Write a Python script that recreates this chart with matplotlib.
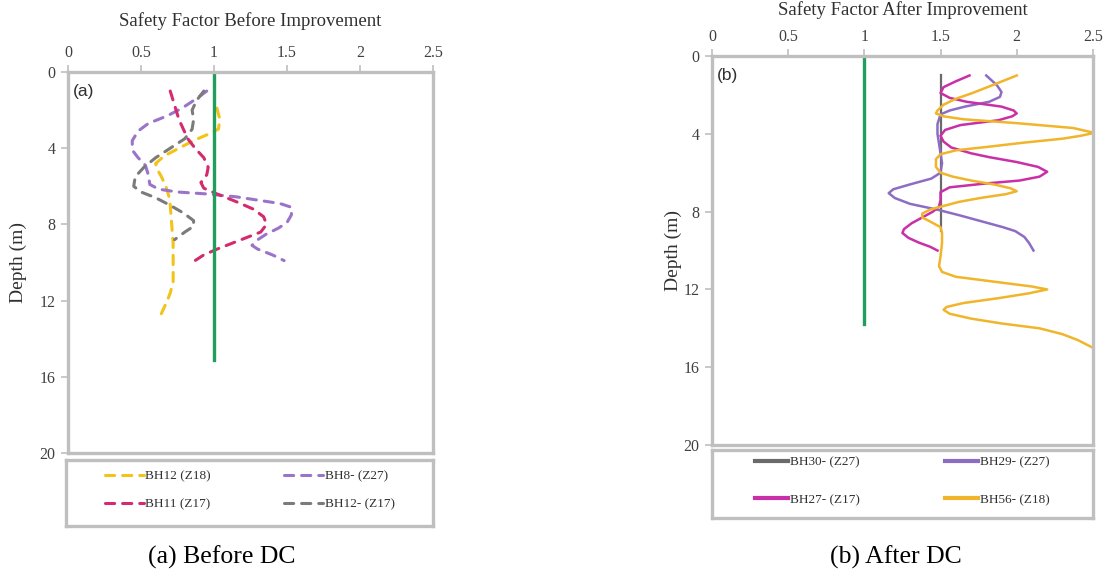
import matplotlib
matplotlib.use('Agg')
import matplotlib.pyplot as plt

plt.rcParams['font.family'] = ['Liberation Serif', 'DejaVu Serif']

# --- shared axis values
sf_ticks = [0, 0.5, 1, 1.5, 2, 2.5]
sf_tick_labels = ['0', '0.5', '1', '1.5', '2', '2.5']
depth_ticks = [0, 4, 8, 12, 16, 20]

# --- (a) before DC (depth in m, safety factor)
bh12_z18_depth = [1.9, 2.5, 3.0, 3.3, 3.6, 4.0, 4.4, 4.8, 5.1, 5.5, 6.0, 6.5, 7.0,
                  8.0, 9.0, 10.0, 11.0, 11.6, 12.0, 12.5, 13.0]
bh12_z18_sf = [1.02, 1.04, 1.03, 0.95, 0.86, 0.76, 0.66, 0.60, 0.61, 0.64, 0.67, 0.69, 0.70,
               0.71, 0.72, 0.72, 0.72, 0.70, 0.68, 0.65, 0.62]

bh8_z27_depth = [1.0, 1.4, 1.9, 2.3, 2.7, 3.1, 3.6, 4.1, 4.5, 4.9, 5.4, 5.9, 6.15, 6.3,
                 6.4, 6.55, 6.75, 6.9, 7.1, 7.5, 7.9, 8.2, 8.5, 8.8, 9.1, 9.3, 9.6, 9.9]
bh8_z27_sf = [0.95, 0.88, 0.78, 0.68, 0.55, 0.48, 0.44, 0.44, 0.48, 0.53, 0.55, 0.56, 0.62, 0.75,
              0.95, 1.15, 1.32, 1.45, 1.53, 1.53, 1.50, 1.44, 1.36, 1.30, 1.26, 1.30, 1.40, 1.48]

bh11_z17_depth = [1.0, 1.5, 2.0, 2.5, 3.0, 3.5, 4.0, 4.5, 5.0, 5.4, 5.8, 6.1, 6.4, 6.8,
                  7.2, 7.6, 8.0, 8.4, 8.7, 9.0, 9.3, 9.6, 10.0]
bh11_z17_sf = [0.70, 0.72, 0.74, 0.76, 0.79, 0.82, 0.87, 0.93, 0.96, 0.95, 0.91, 0.93, 1.02, 1.15,
               1.27, 1.34, 1.36, 1.32, 1.22, 1.12, 1.02, 0.93, 0.85]

bh12_z17_depth = [1.0, 1.5, 2.0, 2.5, 3.0, 3.5, 4.0, 4.5, 5.0, 5.5, 6.0, 6.3, 6.6, 7.0,
                  7.4, 7.8, 8.1, 8.4, 8.8]
bh12_z17_sf = [0.93, 0.88, 0.85, 0.86, 0.85, 0.80, 0.70, 0.60, 0.52, 0.46, 0.45, 0.50, 0.60, 0.70,
               0.79, 0.86, 0.86, 0.80, 0.73]

limit_a_depth = [0, 15.1]
limit_a_sf = [1, 1]

# --- (b) after DC
bh30_z27_depth = [1.0, 9.0]
bh30_z27_sf = [1.5, 1.5]

bh29_z27_depth = [1.0, 1.5, 1.85, 2.1, 2.35, 2.6, 2.8, 3.0, 3.5, 4.0, 4.5, 5.0, 5.5, 6.0,
                  6.3, 6.6, 6.85, 7.05, 7.3, 7.6, 7.9, 8.2, 8.5, 8.8, 9.0, 9.3, 9.6, 10.0]
bh29_z27_sf = [1.80, 1.87, 1.90, 1.89, 1.82, 1.66, 1.56, 1.50, 1.48, 1.48, 1.49, 1.50, 1.51, 1.50,
               1.44, 1.30, 1.19, 1.16, 1.20, 1.30, 1.48, 1.63, 1.77, 1.91, 1.99, 2.05, 2.08, 2.11]

bh27_z17_depth = [1.0, 1.3, 1.6, 1.9, 2.15, 2.35, 2.6, 2.8, 2.95, 3.1, 3.3, 3.55, 3.8, 4.1,
                  4.4, 4.7, 5.0, 5.2, 5.45, 5.7, 5.95, 6.2, 6.4, 6.55, 6.75, 7.0, 7.4, 7.75,
                  8.0, 8.3, 8.6, 8.9, 9.1, 9.35, 9.6, 9.8, 10.0]
bh27_z17_sf = [1.69, 1.60, 1.52, 1.50, 1.56, 1.67, 1.90, 1.98, 2.00, 1.97, 1.88, 1.63, 1.53, 1.50,
               1.52, 1.57, 1.70, 1.82, 2.00, 2.14, 2.20, 2.15, 2.02, 1.80, 1.56, 1.50, 1.50, 1.49,
               1.45, 1.38, 1.31, 1.26, 1.25, 1.29, 1.36, 1.43, 1.48]

bh56_z18_depth = [1.0, 1.5, 1.9, 2.2, 2.5, 2.8, 2.95, 3.1, 3.25, 3.45, 3.7, 3.95, 4.1, 4.25,
                  4.45, 4.65, 4.85, 5.05, 5.3, 5.7, 6.0, 6.2, 6.4, 6.6, 6.8, 6.95, 7.1, 7.3,
                  7.5, 7.75, 7.9, 8.1, 8.3, 8.5, 8.8, 9.1, 9.6, 10.3, 10.8, 11.1, 11.35, 11.6,
                  11.85, 12.0, 12.2, 12.45, 12.7, 12.9, 13.05, 13.25, 13.5, 13.75, 14.0, 14.3,
                  14.6, 15.0]
bh56_z18_sf = [2.00, 1.84, 1.71, 1.60, 1.52, 1.48, 1.47, 1.52, 1.65, 2.00, 2.37, 2.51, 2.42, 2.30,
               2.05, 1.83, 1.60, 1.50, 1.47, 1.47, 1.50, 1.58, 1.70, 1.85, 1.96, 2.00, 1.93, 1.76,
               1.62, 1.50, 1.43, 1.38, 1.38, 1.43, 1.50, 1.51, 1.51, 1.50, 1.49, 1.51, 1.60, 1.85,
               2.10, 2.20, 2.08, 1.88, 1.65, 1.54, 1.52, 1.56, 1.70, 1.90, 2.15, 2.30,
               2.40, 2.50]

limit_b_depth = [0, 13.8]
limit_b_sf = [1, 1]

FRAME = '#bfbfbf'
GREEN = '#1f9e5e'


def style_axes(ax, xlabel, tag, xlabelpad, ylabelpad):
    ax.set_xlim(0, 2.5)
    ax.set_ylim(20, 0)
    ax.set_xticks(sf_ticks)
    ax.set_xticklabels(sf_tick_labels)
    ax.set_yticks(depth_ticks)
    ax.xaxis.tick_top()
    ax.xaxis.set_label_position('top')
    ax.set_xlabel(xlabel, fontsize=13.5, labelpad=xlabelpad, color='#303030')
    ax.set_ylabel('Depth (m)', fontsize=14, labelpad=ylabelpad, color='#303030')
    ax.tick_params(axis='both', direction='out', length=5, width=1.2, color=FRAME,
                   labelsize=11.5, labelcolor='#404040', pad=4)
    ax.tick_params(axis='x', pad=3)
    for s in ax.spines.values():
        s.set_color(FRAME)
        s.set_linewidth(2.4)
    ax.text(0.012, 0.95, tag, transform=ax.transAxes, fontsize=12.5, ha='left', va='center',
            family=['Liberation Sans', 'DejaVu Sans'], color='#303030')


def legend_box(fig, rect, handles, labels, spacing, colspacing, hlen, handle_lw=None):
    lax = fig.add_axes(rect)
    lax.set_xticks([])
    lax.set_yticks([])
    for s in lax.spines.values():
        s.set_color(FRAME)
        s.set_linewidth(2.4)
    leg = lax.legend(handles, labels, loc='center', bbox_to_anchor=(0.5, 0.54), ncol=2,
                     frameon=False, fontsize=9.5, labelspacing=spacing,
                     columnspacing=colspacing, handlelength=hlen,
                     handletextpad=0.1, labelcolor='#303030')
    if handle_lw:
        for ln in leg.get_lines():
            ln.set_linewidth(handle_lw)


fig = plt.figure(figsize=(11.1, 5.76), dpi=100)

# (a) before DC
ax1 = fig.add_axes([0.0613, 0.2135, 0.3288, 0.6615])
dash = dict(lw=2.2, linestyle=(0, (3, 2.6)), dash_capstyle='round')
l1, = ax1.plot(bh12_z18_sf, bh12_z18_depth, color='#f2c318', **dash)
l2, = ax1.plot(bh8_z27_sf, bh8_z27_depth, color='#9a74c9', **dash)
l3, = ax1.plot(bh11_z17_sf, bh11_z17_depth, color='#d42a6e', **dash)
l4, = ax1.plot(bh12_z17_sf, bh12_z17_depth, color='#7b7b7b', **dash)
ax1.plot(limit_a_sf, limit_a_depth, color=GREEN, lw=2.4)
style_axes(ax1, 'Safety Factor Before Improvement', '(a)', 13.5, 9)
legend_box(fig, [0.0595, 0.0868, 0.3306, 0.1146],
           [l1, l3, l2, l4], ['BH12 (Z18)', 'BH11 (Z17)', 'BH8- (Z27)', 'BH12- (Z17)'],
           1.2, 5.5, 3.0)

# (b) after DC
ax2 = fig.add_axes([0.6414, 0.2274, 0.3432, 0.6753])
ax2.plot(limit_b_sf, limit_b_depth, color=GREEN, lw=2.4)
m1, = ax2.plot(bh30_z27_sf, bh30_z27_depth, color='#6a6a6a', lw=1.6)
m2, = ax2.plot(bh29_z27_sf, bh29_z27_depth, color='#8c6cc4', lw=1.8)
m3, = ax2.plot(bh27_z17_sf, bh27_z17_depth, color='#c92fa6', lw=1.8)
m4, = ax2.plot(bh56_z18_sf, bh56_z18_depth, color='#f0b52a', lw=1.8)
style_axes(ax2, 'Safety Factor After Improvement', '(b)', 10, 1)
legend_box(fig, [0.6414, 0.1007, 0.3432, 0.118],
           [m1, m3, m2, m4], ['BH30- (Z27)', 'BH27- (Z17)', 'BH29- (Z27)', 'BH56- (Z18)'],
           1.9, 6.5, 2.5, handle_lw=3)

fig.text(0.2, 0.033, '(a) Before DC', ha='center', va='center', fontsize=18.5)
fig.text(0.807, 0.033, '(b) After DC', ha='center', va='center', fontsize=18.5)

fig.savefig('out.png', dpi=100)
